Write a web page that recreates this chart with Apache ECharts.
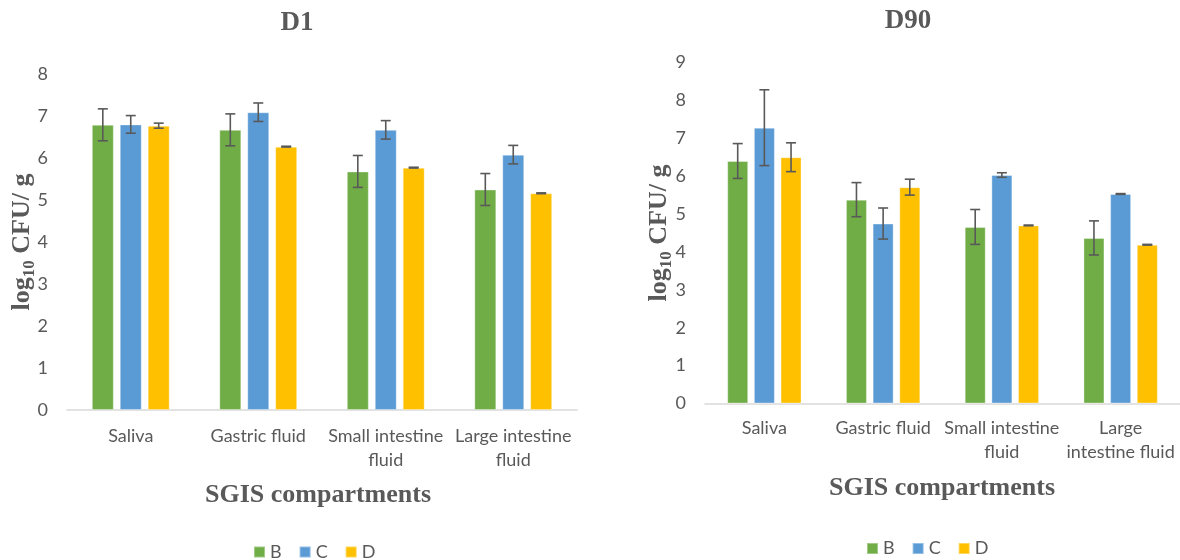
<!DOCTYPE html>
<html><head><meta charset="utf-8">
<script src="https://cdn.jsdelivr.net/npm/echarts@6/dist/echarts.min.js"></script>
<style>html,body{margin:0;padding:0;background:#fff}#c{width:1180px;height:560px}</style>
</head><body><div id="c"></div>
<script>
// ---------- data ----------
const seriesNames = ['B', 'C', 'D'];
const seriesColors = ['#70AD47', '#5B9BD5', '#FFC000'];

const categoriesD1 = ['Saliva', 'Gastric fluid', 'Small intestine\nfluid', 'Large intestine\nfluid'];
const categoriesD90 = ['Saliva', 'Gastric fluid', 'Small intestine\nfluid', 'Large\nintestine fluid'];

// D1 means and errors
const d1B = [6.79, 6.67, 5.68, 5.25];
const d1C = [6.80, 7.09, 6.67, 6.08];
const d1D = [6.77, 6.27, 5.77, 5.16];
const d1ErrB = [0.38, 0.38, 0.38, 0.38];
const d1ErrC = [0.21, 0.22, 0.22, 0.22];
const d1ErrD = [0.06, 0.01, 0.01, 0.01];

// D90 means and errors
const d90B = [6.40, 5.38, 4.66, 4.37];
const d90C = [7.28, 4.75, 6.03, 5.53];
const d90D = [6.50, 5.71, 4.70, 4.19];
const d90ErrB = [0.46, 0.45, 0.46, 0.45];
const d90ErrC = [1.00, 0.41, 0.06, 0.01];
const d90ErrD = [0.38, 0.21, 0.01, 0.01];

const yMaxD1 = 8;
const yMaxD90 = 9;

// ---------- chart ----------
const GRAY = '#595959';
const LABEL_FONT = 'Lato';
const SERIF = '"Liberation Serif", "Times New Roman", serif';

const chart = echarts.init(document.getElementById('c'), null, {renderer: 'canvas'});

function barSeries(name, color, gi, data, bw) {
  return {
    type: 'bar', name: name, xAxisIndex: gi, yAxisIndex: gi,
    data: data, barWidth: bw, barGap: '27%',
    itemStyle: {color: color, borderColor: 'rgba(255,255,255,0.35)', borderWidth: 1},
    emphasis: {disabled: true}
  };
}

function errSeries(name, gi, values, errs, k, bw) {
  const data = values.map((v, i) => [i, v - errs[i], v + errs[i]]);
  const step = bw * 1.27;
  return {
    type: 'custom', name: name, xAxisIndex: gi, yAxisIndex: gi, z: 10, silent: true,
    data: data,
    encode: {x: 0, y: [1, 2]},
    renderItem: function (params, api) {
      const i = api.value(0);
      const lo = api.coord([i, api.value(1)]);
      const hi = api.coord([i, api.value(2)]);
      const x = lo[0] + (k - 1) * step;
      const hw = 5;
      const st = {stroke: GRAY, lineWidth: 1.6};
      return {
        type: 'group', children: [
          {type: 'line', shape: {x1: x, y1: hi[1], x2: x, y2: lo[1]}, style: st},
          {type: 'line', shape: {x1: x - hw, y1: hi[1], x2: x + hw, y2: hi[1]}, style: st},
          {type: 'line', shape: {x1: x - hw, y1: lo[1], x2: x + hw, y2: lo[1]}, style: st}
        ]
      };
    }
  };
}

function xAxisCfg(gi, cats, margin) {
  return {
    type: 'category', gridIndex: gi, data: cats,
    axisLine: {lineStyle: {color: '#D9D9D9', width: 1.6}},
    axisTick: {show: false},
    axisLabel: {interval: 0, color: GRAY, fontFamily: LABEL_FONT, fontSize: 18, lineHeight: 24, margin: margin}
  };
}

const yName = '{a|log}{s|10}{a| CFU/ g}';
const yNameStyle = {
  rich: {
    a: {fontFamily: SERIF, fontWeight: 'bold', fontSize: 26, color: GRAY, lineHeight: 30},
    s: {fontFamily: SERIF, fontWeight: 'bold', fontSize: 17, color: GRAY, lineHeight: 17, padding: [16, 0, 0, 0]}
  }
};

function yAxisCfg(gi, max, gap) {
  return {
    type: 'value', gridIndex: gi, min: 0, max: max, interval: 1,
    splitLine: {show: false}, axisLine: {show: false}, axisTick: {show: false},
    axisLabel: {color: GRAY, fontFamily: LABEL_FONT, fontSize: 18, margin: 19},
    name: yName, nameLocation: 'middle', nameRotate: 90, nameGap: gap,
    nameMoveOverlap: false,
    nameTextStyle: yNameStyle
  };
}

function txt(x, y, text, size) {
  return {
    type: 'text', x: x, y: y, silent: true,
    style: {text: text, fontFamily: SERIF, fontWeight: 'bold', fontSize: size, fill: GRAY,
            align: 'center', verticalAlign: 'middle'}
  };
}

const legendBase = {
  data: seriesNames, icon: 'rect', itemWidth: 11, itemHeight: 11, itemGap: 17,
  textStyle: {color: GRAY, fontFamily: LABEL_FONT, fontSize: 18},
  selectedMode: false
};

const BW1 = 22, BW2 = 21;
const d1Vals = [d1B, d1C, d1D], d1Errs = [d1ErrB, d1ErrC, d1ErrD];
const d90Vals = [d90B, d90C, d90D], d90Errs = [d90ErrB, d90ErrC, d90ErrD];

const series = [];
seriesNames.forEach((n, k) => series.push(barSeries(n, seriesColors[k], 0, d1Vals[k], BW1)));
seriesNames.forEach((n, k) => series.push(barSeries(n, seriesColors[k], 1, d90Vals[k], BW2)));
seriesNames.forEach((n, k) => series.push(errSeries('err1' + n, 0, d1Vals[k], d1Errs[k], k, BW1)));
seriesNames.forEach((n, k) => series.push(errSeries('err2' + n, 1, d90Vals[k], d90Errs[k], k, BW2)));

chart.setOption({
  animation: false,
  backgroundColor: '#ffffff',
  color: seriesColors,
  grid: [
    {left: 67, top: 74, width: 510, height: 336},
    {left: 705, top: 62.5, width: 475, height: 341}
  ],
  xAxis: [xAxisCfg(0, categoriesD1, 14), xAxisCfg(1, categoriesD90, 13)],
  yAxis: [yAxisCfg(0, yMaxD1, 30), yAxisCfg(1, yMaxD90, 31)],
  legend: [
    Object.assign({}, legendBase, {left: 248, top: 538}),
    Object.assign({}, legendBase, {left: 861, top: 534.5})
  ],
  graphic: [
    txt(297, 23, 'D1', 27),
    txt(908, 21, 'D90', 27),
    txt(318, 495, 'SGIS compartments', 26),
    txt(942, 488, 'SGIS compartments', 26)
  ],
  series: series
});
</script>
</body></html>
